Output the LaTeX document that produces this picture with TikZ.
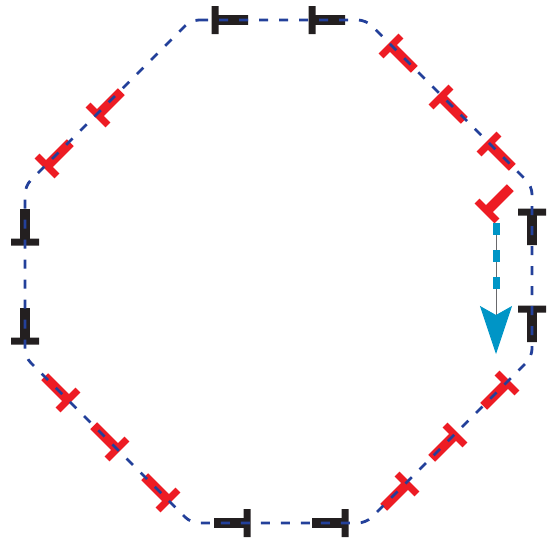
\documentclass[tikz,border=0pt]{standalone}
\usepackage{tikz}
\usetikzlibrary{arrows.meta,calc}
\definecolor{azulborde}{RGB}{35,64,154}
\definecolor{rojoT}{RGB}{237,28,36}
\definecolor{negroT}{RGB}{35,31,32}
\definecolor{cian}{RGB}{0,149,198}
\definecolor{grisflecha}{RGB}{105,105,108}
\tikzset{
    frontera/.style={
        draw=azulborde,               % borde azul oscuro
        line width=2.8pt,             % trazo bastante grueso
        dash pattern=on 9pt off 11pt, % guiones regulares
        rounded corners=8pt           % esquinas apenas redondeadas
    },
    negra/.style={
        fill=negroT                   % dislocaciones en los lados rectos
    },
    roja/.style={
        fill=rojoT                    % dislocaciones en los lados diagonales
    },
    disloc/.pic={
        \path[pic actions] (-3.5,-14) rectangle (3.5,14)   % barra
                           (0,-4.8) rectangle (33,4.8);    % tallo
    },
    movimiento/.style={
        draw=grisflecha,              % linea fina debajo de los guiones
        line width=0.9pt,
        -{Stealth[length=48pt,width=32pt,inset=9pt,color=cian]}
    },
    guiones/.style={
        draw=cian,                    % guiones celestes gruesos
        line width=7pt,
        dash pattern=on 12pt off 15pt
    }
}
\begin{document}
\begin{tikzpicture}[x=1pt,y=-1pt]
    \useasboundingbox (0,0) rectangle (550,547);
    \coordinate (a) at (191,20);
    \coordinate (b) at (366,20);
    \coordinate (c) at (532,186);
    \coordinate (d) at (532,357);
    \coordinate (e) at (366,523);
    \coordinate (f) at (191,523);
    \coordinate (g) at (25,357);
    \coordinate (h) at (25,186);

    \pic[negra] at (215,20) {disloc};
    \pic[negra] at (312,20) {disloc};
    \pic[negra,rotate=-90] at (532,212) {disloc};
    \pic[negra,rotate=-90] at (532,309) {disloc};
    \pic[negra,rotate=180] at (345,523) {disloc};
    \pic[negra,rotate=180] at (247,523) {disloc};
    \pic[negra,rotate=90] at (25,341) {disloc};
    \pic[negra,rotate=90] at (25,242) {disloc};

    \pic[roja,rotate=-45] at (391,46) {disloc};
    \pic[roja,rotate=-45] at (441,97) {disloc};
    \pic[roja,rotate=-45] at (489,144) {disloc};
    \pic[roja,rotate=45] at (487,211) {disloc};
    \pic[roja,rotate=-135] at (507,383) {disloc};
    \pic[roja,rotate=-135] at (455,435) {disloc};
    \pic[roja,rotate=-135] at (407,484) {disloc};
    \pic[roja,rotate=135] at (168,500) {disloc};
    \pic[roja,rotate=135] at (117,449) {disloc};
    \pic[roja,rotate=135] at (68,400) {disloc};
    \pic[roja,rotate=45] at (47,166) {disloc};
    \pic[roja,rotate=45] at (98,115) {disloc};

    \draw[frontera] (a) -- (b) -- (c) -- (d) -- (e) -- (f) -- (g) -- (h) -- cycle;

    \coordinate (inicio) at (496,223);
    \coordinate (cola) at (496,300);
    \coordinate (punta) at (496,354);
    \draw[movimiento] (inicio) -- (punta);
    \draw[guiones] (inicio) -- (cola);
\end{tikzpicture}
\end{document}
